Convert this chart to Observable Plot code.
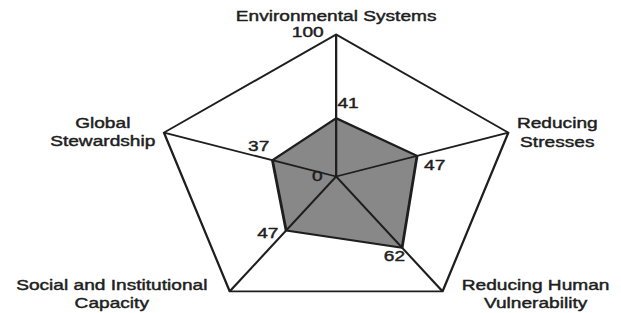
<!DOCTYPE html>
<html><head><meta charset="utf-8">
<script src="https://cdn.jsdelivr.net/npm/d3@7"></script>
<script src="https://cdn.jsdelivr.net/npm/@observablehq/plot@0.6"></script>
<style>body{margin:0;background:#fff} #chart{width:621px;height:313px;overflow:hidden}</style>
</head><body><div id="chart"></div>
<script>
// ---- data ----
const axes = ["Environmental Systems", "Reducing Stresses", "Reducing Human Vulnerability", "Social and Institutional Capacity", "Global Stewardship"];
const axisLabels = ["Environmental Systems", "Reducing\nStresses", "Reducing Human\nVulnerability", "Social and Institutional\nCapacity", "Global\nStewardship"];
const values = [41, 47, 62, 47, 37];
const axisMax = 100;
const scaleTicks = [0, 100];

// ---- layout (not data) ----
const stretch = 1.275;            // reference image is stretched horizontally
const W = 621 / stretch, H = 313;
const cx = 335.5 / stretch, cy = 176, R = 142;
const labelLayout = [
  {dx: 0, dy: -19}, {dx: 38.4, dy: -1}, {dx: 73, dy: 2}, {dx: -92.5, dy: 2}, {dx: -48, dy: -1.5}
];
const valueLayout = [
  {dx: 1, dy: -15, anchor: "start"}, {dx: 5.5, dy: 9, anchor: "start"}, {dx: -6, dy: 8, anchor: "middle"},
  {dx: -6, dy: 3, anchor: "end"}, {dx: -2.4, dy: -14, anchor: "end"}
];
const tickLayout = [{dx: -10.6, dy: 0}, {dx: -9.8, dy: -2}];

const n = axes.length;
const ang = i => i * 2 * Math.PI / n;
const pt = (i, v) => ({x: v * Math.sin(ang(i)), y: v * Math.cos(ang(i))});
const outer = axes.map((a, i) => ({axis: a, label: axisLabels[i], ...pt(i, axisMax)}));
const series = axes.map((a, i) => ({axis: a, value: values[i], ...pt(i, values[i])}));
const ticks = scaleTicks.map(t => ({label: String(t), ...pt(0, t)}));

const ink = "#1e1e1e";
const font = "Liberation Sans, Arial, sans-serif";
const txt = {fontSize: 15, fill: ink, stroke: ink, strokeWidth: 0.45, fontFamily: font};

const marks = [
  Plot.line(outer, {x: "x", y: "y", curve: "linear-closed", stroke: ink, strokeWidth: 1.8}),
  Plot.line(series, {x: "x", y: "y", curve: "linear-closed", fill: "#888888", stroke: ink, strokeWidth: 2.2}),
  Plot.link(outer, {x1: () => 0, y1: () => 0, x2: "x", y2: "y", stroke: ink, strokeWidth: 1.8}),
  ...outer.map((d, i) => Plot.text([d], {x: "x", y: "y", text: "label", dx: labelLayout[i].dx, dy: labelLayout[i].dy,
    textAnchor: "middle", lineAnchor: "middle", lineHeight: 1.22, ...txt})),
  ...series.map((d, i) => Plot.text([d], {x: "x", y: "y", text: d => String(d.value), dx: valueLayout[i].dx, dy: valueLayout[i].dy,
    textAnchor: valueLayout[i].anchor, ...txt})),
  ...ticks.map((d, i) => Plot.text([d], {x: "x", y: "y", text: "label", dx: tickLayout[i].dx, dy: tickLayout[i].dy,
    textAnchor: "end", ...txt}))
];

const svg = Plot.plot({
  width: W, height: H,
  x: {domain: [-100, 100], range: [cx - R, cx + R], axis: null},
  y: {domain: [-100, 100], range: [cy + R, cy - R], axis: null},
  style: {fontFamily: font, background: "#fff"},
  marks
});
svg.setAttribute("width", 621);
svg.setAttribute("height", 313);
svg.setAttribute("preserveAspectRatio", "none");
svg.style.maxWidth = "none";
svg.style.width = "621px";
svg.style.height = "313px";
svg.style.overflow = "visible";
document.getElementById("chart").appendChild(svg);
</script>
</body></html>
